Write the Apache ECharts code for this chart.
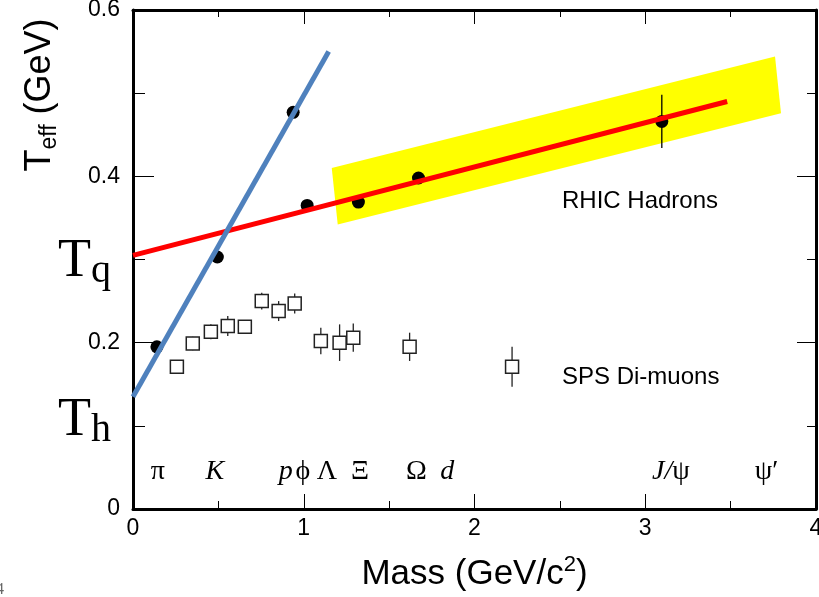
<!DOCTYPE html>
<html>
<head>
<meta charset="utf-8">
<script src="https://cdn.jsdelivr.net/npm/echarts@6/dist/echarts.min.js"></script>
<style>
  html, body { margin: 0; padding: 0; background: #fff; }
  #chart { width: 819px; height: 597px; }
</style>
</head>
<body>
<div id="chart"></div>
<script>
  // RHIC hadrons (filled dots)
  var rhicMass = [0.14, 0.494, 0.938, 1.02, 1.32, 1.672, 3.097]
  var rhicT = [0.195, 0.303, 0.477, 0.365, 0.369, 0.398, 0.466]
  var rhicErr = [0, 0, 0, 0, 0.005, 0, 0.032]

  // SPS di-muons (open squares)
  var spsMass = [0.257, 0.35, 0.456, 0.555, 0.655, 0.754, 0.853, 0.947, 1.10, 1.21, 1.29, 1.62, 2.22]
  var spsT = [0.171, 0.199, 0.213, 0.220, 0.219, 0.250, 0.238, 0.247, 0.202, 0.200, 0.206, 0.195, 0.171]
  var spsErr = [0.008, 0.008, 0.009, 0.012, 0.007, 0.010, 0.012, 0.012, 0.016, 0.022, 0.017, 0.017, 0.024]

  // fit lines (end points)
  var redLineX = [0, 3.48]
  var redLineY = [0.305, 0.490]
  var blueLineX = [0, 1.146]
  var blueLineY = [0.135, 0.550]

  // yellow band corners
  var bandX = [1.164, 3.76, 3.795, 1.199]
  var bandY = [0.410, 0.544, 0.476, 0.342]

  // particle names along the bottom
  var particleX = [0.146, 0.48, 0.895, 0.995, 1.135, 1.33, 1.66, 1.84, 3.15, 3.71]
  var particleNames = ['{n|π}', '{i|K}', '{i|p}', '{n|ϕ}', '{n|Λ}', '{n|Ξ}', '{n|Ω}', '{i|d}', '{i|J/}{n|ψ}', '{n|ψ′}']
  var particleRowY = 0.045

  var SANS = '"Liberation Sans", Arial, sans-serif'
  var SERIF = '"Liberation Serif", "Times New Roman", serif'

  function pairs(xs, ys) {
    return xs.map(function (x, i) { return [x, ys[i]] })
  }

  var myChart = echarts.init(document.getElementById('chart'))

  function errBars(color) {
    return function (params, api) {
      var x = api.value(0), y = api.value(1), e = api.value(2)
      if (!e) return null
      var p1 = api.coord([x, y - e])
      var p2 = api.coord([x, y + e])
      return {
        type: 'line',
        shape: { x1: p1[0], y1: p1[1], x2: p2[0], y2: p2[1] },
        style: { stroke: color, lineWidth: 1.3 }
      }
    }
  }

  var axisCommon = {
    type: 'value',
    splitLine: { show: false },
    axisLine: { onZero: false, lineStyle: { color: '#000', width: 3 } }
  }

  myChart.setOption({
    animation: false,
    backgroundColor: '#fff',
    grid: { left: 133, right: 3, top: 10, bottom: 88, outerBoundsMode: 'none', containLabel: false },
    xAxis: [
      Object.assign({}, axisCommon, {
        min: 0, max: 4, interval: 1, position: 'bottom',
        axisTick: { inside: true, length: 15, lineStyle: { color: '#000', width: 1 } },
        minorTick: { show: true, splitNumber: 2, length: 8, lineStyle: { color: '#000', width: 1 } },
        axisLabel: { fontSize: 23, color: '#000', fontFamily: SANS, margin: 8 },
        name: '{n|Mass (GeV/c}{p|2}{n|)}',
        nameLocation: 'middle',
        nameGap: 45,
        nameTextStyle: {
          rich: {
            n: { fontSize: 35, fontFamily: SANS, color: '#000', lineHeight: 40 },
            p: { fontSize: 22, fontFamily: SANS, color: '#000', verticalAlign: 'top', lineHeight: 22 }
          }
        }
      }),
      Object.assign({}, axisCommon, {
        min: 0, max: 4, interval: 1, position: 'top',
        axisTick: { inside: true, length: 14, lineStyle: { color: '#000', width: 1 } },
        minorTick: { show: true, splitNumber: 2, length: 7, lineStyle: { color: '#000', width: 1 } },
        axisLabel: { show: false }
      })
    ],
    yAxis: [
      Object.assign({}, axisCommon, {
        min: 0, max: 0.6, interval: 0.2, position: 'left',
        axisTick: { inside: true, length: 21, lineStyle: { color: '#000', width: 1 } },
        minorTick: { show: true, splitNumber: 2, length: 12, lineStyle: { color: '#000', width: 1 } },
        axisLabel: { fontSize: 23, color: '#000', fontFamily: SANS, margin: 13 }
      }),
      Object.assign({}, axisCommon, {
        min: 0, max: 0.6, interval: 0.2, position: 'right',
        axisTick: { inside: true, length: 19, lineStyle: { color: '#000', width: 1 } },
        minorTick: { show: true, splitNumber: 2, length: 9, lineStyle: { color: '#000', width: 1 } },
        axisLabel: { show: false }
      })
    ],
    graphic: [
      {
        type: 'text', x: 40, y: 95, rotation: Math.PI / 2,
        style: {
          text: '{t|T}{s|eff}{t| (GeV)}',
          align: 'center', verticalAlign: 'middle',
          rich: {
            t: { fontSize: 36, fontFamily: SANS, fill: '#000', lineHeight: 42 },
            s: { fontSize: 23, fontFamily: SANS, fill: '#000', verticalAlign: 'bottom', lineHeight: 16 }
          }
        }
      },
      {
        type: 'text', x: 58, y: 262,
        style: {
          text: '{t|T}{s|q}',
          verticalAlign: 'middle',
          rich: {
            t: { fontSize: 54, fontFamily: SERIF, fill: '#000', lineHeight: 58 },
            s: { fontSize: 40, fontFamily: SERIF, fill: '#000', verticalAlign: 'bottom', lineHeight: 22 }
          }
        }
      },
      {
        type: 'text', x: 58, y: 421,
        style: {
          text: '{t|T}{s|h}',
          verticalAlign: 'middle',
          rich: {
            t: { fontSize: 54, fontFamily: SERIF, fill: '#000', lineHeight: 58 },
            s: { fontSize: 40, fontFamily: SERIF, fill: '#000', verticalAlign: 'bottom', lineHeight: 22 }
          }
        }
      },
      {
        type: 'text', x: 562, y: 201,
        style: { text: 'RHIC Hadrons', fontSize: 24, fontFamily: SANS, fill: '#000', verticalAlign: 'middle' }
      },
      {
        type: 'text', x: 562, y: 377,
        style: { text: 'SPS Di-muons', fontSize: 24, fontFamily: SANS, fill: '#000', verticalAlign: 'middle' }
      },
      {
        type: 'text', x: -4, y: 582,
        style: { text: '4', fontSize: 16, fontFamily: SERIF, fill: '#666' }
      }
    ],
    series: [
      {
        // yellow band
        type: 'custom',
        z: 1,
        data: [0],
        renderItem: function (params, api) {
          var pts = bandX.map(function (x, i) { return api.coord([x, bandY[i]]) })
          return { type: 'polygon', shape: { points: pts }, style: { fill: '#ffff00' } }
        }
      },
      {
        type: 'custom',
        z: 2,
        data: spsMass.map(function (x, i) { return [x, spsT[i], spsErr[i]] }),
        renderItem: errBars('#222')
      },
      {
        type: 'scatter',
        z: 3,
        symbol: 'rect',
        symbolSize: 13,
        itemStyle: { color: '#fff', borderColor: '#222', borderWidth: 1.5, opacity: 1 },
        data: pairs(spsMass, spsT)
      },
      {
        type: 'custom',
        z: 3,
        data: rhicMass.map(function (x, i) { return [x, rhicT[i], rhicErr[i]] }),
        renderItem: errBars('#000')
      },
      {
        type: 'scatter',
        z: 4,
        symbol: 'circle',
        symbolSize: 13,
        itemStyle: { color: '#000', opacity: 1 },
        data: pairs(rhicMass, rhicT)
      },
      {
        type: 'line',
        z: 5,
        symbol: 'none',
        lineStyle: { color: '#ff0000', width: 5 },
        data: pairs(redLineX, redLineY)
      },
      {
        type: 'line',
        z: 5,
        symbol: 'none',
        lineStyle: { color: '#4f81bd', width: 5 },
        data: pairs(blueLineX, blueLineY)
      },
      {
        // particle names row
        type: 'scatter',
        z: 6,
        symbolSize: 0,
        silent: true,
        itemStyle: { opacity: 1, color: '#000' },
        data: particleX.map(function (x, i) { return { value: [x, particleRowY], name: particleNames[i] } }),
        label: {
          show: true,
          opacity: 1,
          position: 'inside',
          color: '#000',
          formatter: function (p) { return p.name },
          rich: {
            n: { fontSize: 28, fontFamily: SERIF, color: '#000' },
            i: { fontSize: 28, fontFamily: SERIF, fontStyle: 'italic', color: '#000' }
          }
        }
      }
    ]
  })
</script>
</body>
</html>
